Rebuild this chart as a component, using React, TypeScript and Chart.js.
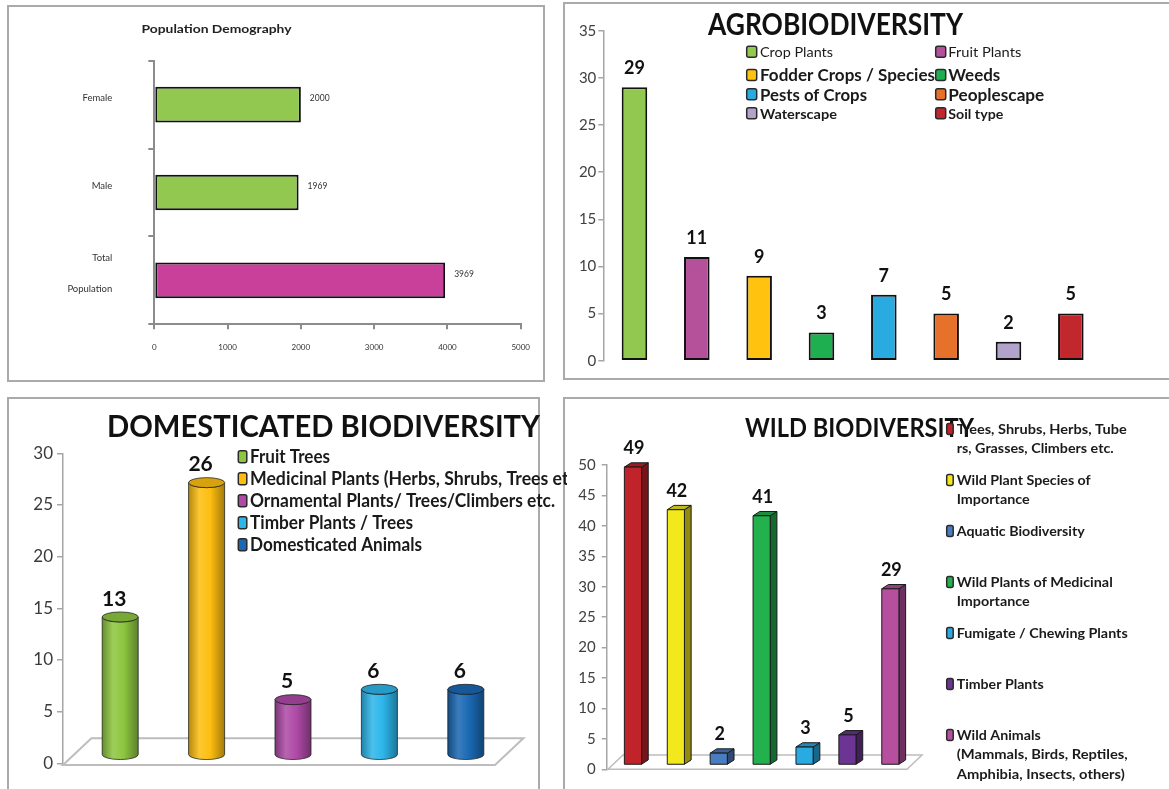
import React, { useEffect, useRef } from "react";
import { Chart, registerables } from "chart.js";

Chart.register(...registerables);
Chart.defaults.font.family = "Lato, 'Noto Sans', sans-serif";

// ================= DATA =================
const popCategories: (string | string[])[] = ["Female", "Male", ["Total", "Population"]];
const popValues = [2000, 1969, 3969];
const popAxisTicks = [0, 1000, 2000, 3000, 4000, 5000];
const popTitle = "Population Demography";

const agroCategories = [
  "Crop Plants",
  "Fruit Plants",
  "Fodder Crops / Species",
  "Weeds",
  "Pests of Crops",
  "Peoplescape",
  "Waterscape",
  "Soil type",
];
const agroValues = [29, 11, 9, 3, 7, 5, 2, 5];
const agroAxisTicks = [0, 5, 10, 15, 20, 25, 30, 35];
const agroTitle = "AGROBIODIVERSITY";

const domCategories = [
  "Fruit Trees",
  "Medicinal Plants (Herbs, Shrubs, Trees etc.)",
  "Ornamental Plants/ Trees/Climbers etc.",
  "Timber Plants / Trees",
  "Domesticated Animals",
];
const domValues = [13, 26, 5, 6, 6];
const domAxisTicks = [0, 5, 10, 15, 20, 25, 30];
const domTitle = "DOMESTICATED BIODIVERSITY";

const wildCategories: string[][] = [
  ["Trees, Shrubs, Herbs, Tube", "rs, Grasses, Climbers etc."],
  ["Wild Plant Species of", "Importance"],
  ["Aquatic Biodiversity"],
  ["Wild Plants of Medicinal", "Importance"],
  ["Fumigate / Chewing Plants"],
  ["Timber Plants"],
  ["Wild Animals", "(Mammals, Birds, Reptiles,", "Amphibia, Insects, others)"],
];
const wildValues = [49, 42, 2, 41, 3, 5, 29];
const wildAxisTicks = [0, 5, 10, 15, 20, 25, 30, 35, 40, 45, 50];
const wildTitle = "WILD BIODIVERSITY";

// ================= STYLES =================
const popColors = ["#92C850", "#92C850", "#C8409A"];
const agroColors = ["#92C84F", "#B5519B", "#FFC20E", "#1DAF50", "#29ABE2", "#E5712A", "#B2A3CA", "#C1272D"];
const agroLegendFonts = [
  "14px Lato", "14px Lato", "bold 17px Lato", "bold 17px Lato",
  "bold 17px Lato", "bold 17px Lato", "bold 14px Lato", "bold 14px Lato",
];
const agroLegendWidths = [73, 73, 175, 52, 107, 96, 77, 55];
const domColors = ["#8DC63F", "#FDBE10", "#AE4AA6", "#2DB6EA", "#1A68B3"];
const domLegendWidths = [80, 336, 305, 163, 172];
const wildColors = ["#C1232B", "#F2E81C", "#4A7CC0", "#22B14C", "#29ABE2", "#6C3594", "#B6509E"];
const wildLegendWidths = [[170, 157], [134, 73], [128], [156, 73], [171], [87], [84, 171, 168]];

type Rect = { x: number; y: number; w: number; h: number };
type Area = { l: number; t: number; r: number; b: number };

function pad(rect: Rect, area: Area, yW: number, xH: number) {
  return {
    left: area.l - rect.x - yW,
    top: area.t - rect.y,
    right: rect.x + rect.w - area.r,
    bottom: rect.y + rect.h - area.b - xH,
  };
}

function hexToRgb(h: string) {
  const n = parseInt(h.slice(1), 16);
  return [(n >> 16) & 255, (n >> 8) & 255, n & 255];
}
function shade(h: string, f: number) {
  const [r, g, b] = hexToRgb(h);
  const t = f < 0 ? 0 : 255;
  const p = Math.abs(f);
  return `rgb(${Math.round((t - r) * p + r)},${Math.round((t - g) * p + g)},${Math.round((t - b) * p + b)})`;
}

function drawFit(
  ctx: CanvasRenderingContext2D, text: string, x: number, y: number,
  font: string, color: string, align: CanvasTextAlign, width?: number
) {
  ctx.save();
  ctx.font = font;
  ctx.fillStyle = color;
  ctx.textBaseline = "middle";
  ctx.textAlign = align;
  ctx.translate(x, y);
  if (width) {
    const m = ctx.measureText(text).width;
    if (m > 0) ctx.scale(width / m, 1);
  }
  ctx.fillText(text, 0, 0);
  ctx.restore();
}

function legendBox(ctx: CanvasRenderingContext2D, x: number, y: number, w: number, h: number, color: string) {
  ctx.save();
  ctx.beginPath();
  if ((ctx as any).roundRect) (ctx as any).roundRect(x, y, w, h, 2);
  else ctx.rect(x, y, w, h);
  ctx.fillStyle = color;
  ctx.fill();
  ctx.lineWidth = 1.5;
  ctx.strokeStyle = "#2a2a2a";
  ctx.stroke();
  ctx.restore();
}

const tickSetter = (arr: number[]) => (s: any) => {
  s.ticks = arr.map((v) => ({ value: v }));
};

const fixWidth = (w: number) => (s: any) => {
  s.width = w;
  s.paddingTop = 0;
  s.paddingBottom = 0;
};
const fixHeight = (h: number) => (s: any) => {
  s.height = h;
  s.paddingLeft = 0;
  s.paddingRight = 0;
};

// ================= CONFIGS =================
function popConfig(rect: Rect): any {
  const area = { l: 154.3, t: 60.7, r: 520.7, b: 324.3 };
  const yW = 100, xH = 40;
  const axisCol = "#8c8c8c";
  return {
    type: "bar",
    data: {
      labels: popCategories,
      datasets: [{
        data: popValues, backgroundColor: popColors, borderColor: "#111",
        borderWidth: 2, borderSkipped: false, categoryPercentage: 0.5, barPercentage: 0.81,
      }],
    },
    options: {
      indexAxis: "y", responsive: false, animation: false,
      layout: { padding: pad(rect, area, yW, xH) },
      plugins: { legend: { display: false }, tooltip: { enabled: false } },
      scales: {
        x: {
          type: "linear", min: popAxisTicks[0], max: popAxisTicks[popAxisTicks.length - 1],
          afterBuildTicks: tickSetter(popAxisTicks),
          afterFit: fixHeight(xH),
          grid: { drawOnChartArea: false, tickLength: 5, color: axisCol, lineWidth: 2 },
          border: { color: axisCol, width: 2 },
          ticks: {
            font: { size: 8 }, color: "#333", padding: 13, maxRotation: 0,
            callback: (v: any) => String(v),
          },
        },
        y: {
          afterFit: fixWidth(yW),
          grid: { drawOnChartArea: false, tickLength: 6, color: axisCol, lineWidth: 2, offset: true },
          border: { color: axisCol, width: 2 },
          ticks: { font: { size: 9.5, lineHeight: 3.3 }, color: "#333", padding: 36, labelOffset: -7 },
        },
      },
    },
    plugins: [{
      id: "popExtras",
      afterDatasetsDraw(chart: any) {
        const ctx = chart.ctx;
        ctx.save();
        ctx.translate(-rect.x, -rect.y);
        drawFit(ctx, popTitle, 216.5, 29, "bold 12px Lato", "#222", "center", 150);
        const meta = chart.getDatasetMeta(0);
        meta.data.forEach((el: any, i: number) => {
          drawFit(ctx, String(popValues[i]), el.x + rect.x + 9, el.y + rect.y - 6, "8.5px Lato", "#333", "left");
        });
        ctx.restore();
      },
    }],
  };
}

function agroConfig(rect: Rect): any {
  const area = { l: 603.3, t: 30.7, r: 1102, b: 360.7 };
  const yW = 30, xH = 0;
  const axisCol = "#a6a6a6";
  return {
    type: "bar",
    data: {
      labels: agroCategories,
      datasets: [{
        data: agroValues, backgroundColor: agroColors, borderColor: "#111",
        borderWidth: 2, borderSkipped: false, categoryPercentage: 0.5, barPercentage: 0.82,
      }],
    },
    options: {
      responsive: false, animation: false,
      layout: { padding: pad(rect, area, yW, xH) },
      plugins: { legend: { display: false }, tooltip: { enabled: false } },
      scales: {
        x: { display: false, afterFit: fixHeight(xH) },
        y: {
          min: agroAxisTicks[0], max: agroAxisTicks[agroAxisTicks.length - 1],
          afterBuildTicks: tickSetter(agroAxisTicks),
          afterFit: fixWidth(yW),
          grid: { drawOnChartArea: false, tickLength: 5, color: axisCol, lineWidth: 1.5 },
          border: { color: axisCol, width: 1.5 },
          ticks: { font: { size: 15 }, color: "#404040", padding: 2 },
        },
      },
    },
    plugins: [{
      id: "agroExtras",
      afterDatasetsDraw(chart: any) {
        const ctx = chart.ctx;
        ctx.save();
        ctx.translate(-rect.x, -rect.y);
        drawFit(ctx, agroTitle, 835.5, 25.5, "bold 30px Lato", "#111", "center", 255);
        const meta = chart.getDatasetMeta(0);
        meta.data.forEach((el: any, i: number) => {
          drawFit(ctx, String(agroValues[i]), el.x + rect.x, el.y + rect.y - 19, "bold 18px Lato", "#111", "center");
        });
        const boxX = [746.7, 935.7], textX = [760, 948.3], rowY = [52.7, 76, 95.3, 114.3];
        agroCategories.forEach((label, i) => {
          const col = i % 2, row = Math.floor(i / 2);
          const y = rowY[row];
          legendBox(ctx, boxX[col], y - 6.5, 10, 11, agroColors[i]);
          drawFit(ctx, label, textX[col], y, agroLegendFonts[i], "#1a1a1a", "left", agroLegendWidths[i]);
        });
        ctx.restore();
      },
    }],
  };
}

function drawCylinder(ctx: CanvasRenderingContext2D, cx: number, top: number, bot: number, rx: number, ry: number, color: string) {
  const g = ctx.createLinearGradient(cx - rx, 0, cx + rx, 0);
  g.addColorStop(0, shade(color, -0.28));
  g.addColorStop(0.3, shade(color, 0.14));
  g.addColorStop(0.6, color);
  g.addColorStop(1, shade(color, -0.35));
  ctx.save();
  ctx.beginPath();
  ctx.moveTo(cx - rx, top);
  ctx.lineTo(cx - rx, bot);
  ctx.ellipse(cx, bot, rx, ry, 0, Math.PI, 0, true);
  ctx.lineTo(cx + rx, top);
  ctx.ellipse(cx, top, rx, ry, 0, 0, Math.PI, false);
  ctx.closePath();
  ctx.fillStyle = g;
  ctx.fill();
  ctx.strokeStyle = "rgba(30,30,30,0.75)";
  ctx.lineWidth = 1;
  ctx.stroke();
  ctx.beginPath();
  ctx.ellipse(cx, top, rx, ry, 0, 0, Math.PI * 2);
  ctx.fillStyle = shade(color, -0.15);
  ctx.fill();
  ctx.stroke();
  ctx.restore();
}

function domConfig(rect: Rect): any {
  const area = { l: 63, t: 453.3, r: 495, b: 763.3 };
  const yW = 40, xH = 0;
  const axisCol = "#a6a6a6";
  return {
    type: "bar",
    data: {
      labels: domCategories,
      datasets: [{
        data: domValues, backgroundColor: "rgba(0,0,0,0)", borderWidth: 0,
        categoryPercentage: 1, barPercentage: 0.417,
      }],
    },
    options: {
      responsive: false, animation: false,
      layout: { padding: pad(rect, area, yW, xH) },
      plugins: { legend: { display: false }, tooltip: { enabled: false } },
      scales: {
        x: { display: false, afterFit: fixHeight(xH) },
        y: {
          min: domAxisTicks[0], max: domAxisTicks[domAxisTicks.length - 1],
          afterBuildTicks: tickSetter(domAxisTicks),
          afterFit: fixWidth(yW),
          grid: { drawOnChartArea: false, tickLength: 6, color: axisCol, lineWidth: 1.5 },
          border: { color: axisCol, width: 1.5 },
          ticks: { font: { size: 17 }, color: "#3a3a3a", padding: 4 },
        },
      },
    },
    plugins: [{
      id: "domExtras",
      beforeDatasetsDraw(chart: any) {
        const ctx = chart.ctx;
        const a = chart.chartArea;
        const fy = chart.scales.y.getPixelForValue(0) + 1.7;
        const dx = 28.4, dy = -26.7;
        ctx.save();
        ctx.strokeStyle = "#bdbdbd";
        ctx.lineWidth = 2;
        ctx.beginPath();
        ctx.moveTo(a.left, fy);
        ctx.lineTo(a.right, fy);
        ctx.lineTo(a.right + dx, fy + dy);
        ctx.lineTo(a.left + dx, fy + dy);
        ctx.closePath();
        ctx.stroke();
        ctx.restore();
      },
      afterDatasetsDraw(chart: any) {
        const ctx = chart.ctx;
        const meta = chart.getDatasetMeta(0);
        meta.data.forEach((el: any, i: number) => {
          const cx = el.x + 14;
          const top = el.y - 12;
          const bot = el.base - 8;
          drawCylinder(ctx, cx, top, bot, el.width / 2, 5, domColors[i]);
          drawFit(ctx, String(domValues[i]), el.x + 8, top - 18, "bold 21px Lato", "#111", "center");
        });
        ctx.save();
        ctx.translate(-rect.x, -rect.y);
        drawFit(ctx, domTitle, 323.5, 427, "bold 31px Lato", "#111", "center", 433);
        domCategories.forEach((label, i) => {
          const y = 456.7 + i * 22;
          legendBox(ctx, 238.3, y - 6, 8.5, 12, domColors[i]);
          drawFit(ctx, label, 250, y, "bold 18px Lato", "#1a1a1a", "left", domLegendWidths[i]);
        });
        ctx.restore();
      },
    }],
  };
}

function drawBox(ctx: CanvasRenderingContext2D, x0: number, x1: number, top: number, bot: number, dx: number, dy: number, color: string) {
  ctx.save();
  ctx.strokeStyle = "#1a1a1a";
  ctx.lineWidth = 1;
  ctx.lineJoin = "round";
  ctx.beginPath();
  ctx.moveTo(x1, top); ctx.lineTo(x1 + dx, top + dy); ctx.lineTo(x1 + dx, bot + dy); ctx.lineTo(x1, bot);
  ctx.closePath();
  ctx.fillStyle = shade(color, -0.4);
  ctx.fill(); ctx.stroke();
  ctx.beginPath();
  ctx.moveTo(x0, top); ctx.lineTo(x0 + dx, top + dy); ctx.lineTo(x1 + dx, top + dy); ctx.lineTo(x1, top);
  ctx.closePath();
  ctx.fillStyle = shade(color, -0.2);
  ctx.fill(); ctx.stroke();
  ctx.beginPath();
  ctx.rect(x0, top, x1 - x0, bot - top);
  ctx.fillStyle = color;
  ctx.fill(); ctx.stroke();
  ctx.restore();
}

function wildConfig(rect: Rect): any {
  const area = { l: 606.7, t: 465, r: 907, b: 769.3 };
  const yW = 30, xH = 0;
  const axisCol = "#a6a6a6";
  return {
    type: "bar",
    data: {
      labels: wildCategories,
      datasets: [{
        data: wildValues, backgroundColor: "rgba(0,0,0,0)", borderWidth: 0,
        categoryPercentage: 1, barPercentage: 0.4,
      }],
    },
    options: {
      responsive: false, animation: false,
      layout: { padding: pad(rect, area, yW, xH) },
      plugins: { legend: { display: false }, tooltip: { enabled: false } },
      scales: {
        x: { display: false, afterFit: fixHeight(xH) },
        y: {
          min: wildAxisTicks[0], max: wildAxisTicks[wildAxisTicks.length - 1],
          afterBuildTicks: tickSetter(wildAxisTicks),
          afterFit: fixWidth(yW),
          grid: { drawOnChartArea: false, tickLength: 5, color: axisCol, lineWidth: 1.5 },
          border: { color: axisCol, width: 1.5 },
          ticks: { font: { size: 15 }, color: "#404040", padding: 6 },
        },
      },
    },
    plugins: [{
      id: "wildExtras",
      beforeDatasetsDraw(chart: any) {
        const ctx = chart.ctx;
        const a = chart.chartArea;
        const fy = chart.scales.y.getPixelForValue(0);
        const l = a.left + 1.3, r = a.right;
        const dx = 15, dy = -14.3;
        ctx.save();
        ctx.strokeStyle = "#bdbdbd";
        ctx.lineWidth = 1.5;
        ctx.beginPath();
        ctx.moveTo(l, fy);
        ctx.lineTo(r, fy);
        ctx.lineTo(r + dx, fy + dy);
        ctx.lineTo(l + dx, fy + dy);
        ctx.closePath();
        ctx.stroke();
        ctx.restore();
      },
      afterDatasetsDraw(chart: any) {
        const ctx = chart.ctx;
        ctx.save();
        ctx.translate(-rect.x, -rect.y);
        drawFit(ctx, wildTitle, 859.5, 429, "bold 26px Lato", "#111", "center", 229);
        ctx.restore();
        const meta = chart.getDatasetMeta(0);
        meta.data.forEach((el: any, i: number) => {
          const cx = el.x + 4.8;
          const hw = el.width / 2;
          const top = el.y - 4;
          const bot = el.base - 4.3;
          drawBox(ctx, cx - hw, cx + hw, top, bot, 6.7, -4.3, wildColors[i]);
          drawFit(ctx, String(wildValues[i]), cx + 1, top - 19, "bold 18px Lato", "#111", "center");
        });
        ctx.save();
        ctx.translate(-rect.x, -rect.y);
        wildCategories.forEach((lines, i) => {
          const y = 429 + i * 51;
          legendBox(ctx, 946.7, y - 5.5, 6.5, 11, wildColors[i]);
          lines.forEach((line, j) => {
            drawFit(ctx, line, 956.7, y + j * 19.5, "bold 14px Lato", "#1a1a1a", "left", wildLegendWidths[i][j]);
          });
        });
        ctx.restore();
      },
    }],
  };
}

// ================= COMPONENTS =================
function ChartCanvas({ rect, build }: { rect: Rect; build: (r: Rect) => any }) {
  const ref = useRef<HTMLCanvasElement>(null);
  useEffect(() => {
    if (!ref.current) return;
    const chart = new Chart(ref.current, build(rect));
    return () => chart.destroy();
  }, []);
  return (
    <canvas
      ref={ref}
      width={rect.w}
      height={rect.h}
      style={{ position: "absolute", left: rect.x, top: rect.y, width: rect.w, height: rect.h }}
    />
  );
}

const panelBorder = "2px solid #aaaaaa";

export default function App() {
  const frames = [
    { left: 7, top: 5, width: 538, height: 377 },
    { left: 563, top: 2, width: 630, height: 378 },
    { left: 7, top: 397, width: 533, height: 420 },
    { left: 563, top: 397, width: 630, height: 420 },
  ];
  return (
    <div style={{ position: "absolute", left: 0, top: 0, width: 1169, height: 789, overflow: "hidden", background: "#fff" }}>
      {frames.map((f, i) => (
        <div key={i} style={{ position: "absolute", ...f, border: panelBorder, boxSizing: "border-box" }} />
      ))}
      <ChartCanvas rect={{ x: 9, y: 7, w: 534, h: 373 }} build={popConfig} />
      <ChartCanvas rect={{ x: 565, y: 4, w: 604, h: 374 }} build={agroConfig} />
      <ChartCanvas rect={{ x: 9, y: 399, w: 558, h: 390 }} build={domConfig} />
      <ChartCanvas rect={{ x: 565, y: 399, w: 604, h: 390 }} build={wildConfig} />
    </div>
  );
}
